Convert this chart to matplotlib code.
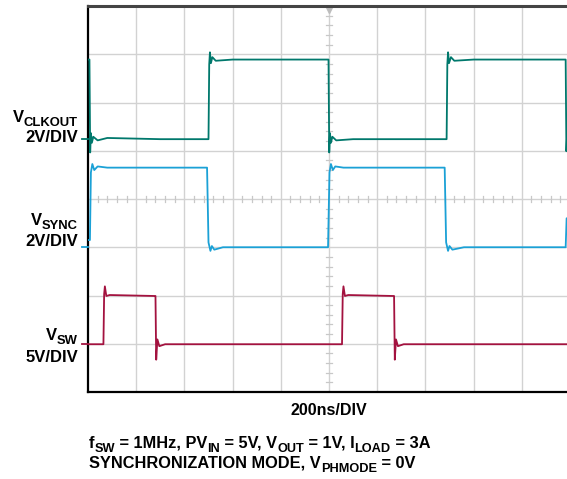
import numpy as np
import matplotlib.pyplot as plt

plt.rcParams['font.family'] = ['Liberation Sans', 'DejaVu Sans']
plt.rcParams['font.weight'] = 'bold'

# scope settings
ns_per_div = 200
n_xdiv, n_ydiv = 10, 8

# traces: time (ns) / volts
clk_t = [0, 6, 9, 12, 16, 22, 40, 80, 300, 500, 503, 506, 510, 516, 530, 600, 998, 1001, 1004, 1008, 1014, 1030, 1100, 1488, 1491, 1494, 1498, 1506, 1520, 1600, 1982, 1985, 1988, 1992, 2000]
clk_v = [3.3, 3.3, -0.55, 0.25, -0.15, 0.1, -0.05, 0.05, 0, 0, 3.1, 3.6, 3.15, 3.4, 3.25, 3.3, 3.3, -0.55, 0.25, -0.15, 0.1, -0.05, 0, 0, 3.1, 3.6, 3.15, 3.4, 3.25, 3.3, 3.3, -0.5, 0.2, -0.1, 0]
sync_t = [0, 8, 12, 18, 26, 40, 80, 494, 500, 508, 514, 524, 560, 996, 1002, 1008, 1016, 1026, 1060, 1480, 1486, 1494, 1500, 1512, 1560, 1982, 1986, 2000]
sync_v = [0.3, 0.3, 3.1, 3.45, 3.2, 3.35, 3.3, 3.3, 0.2, -0.15, 0.05, -0.1, 0, 0, 3.1, 3.45, 3.2, 3.35, 3.3, 3.3, 0.2, -0.15, 0.05, -0.1, 0, 0, 1.2, 1.2]
sw_t = [0, 64, 67, 70, 76, 90, 276, 280, 283, 288, 296, 320, 1054, 1057, 1060, 1066, 1080, 1266, 1270, 1273, 1278, 1286, 1310, 2000]
sw_v = [0, 0, 5.2, 6.0, 5.0, 5.1, 5.0, 5.0, -1.6, 0.5, -0.2, 0, 0, 5.2, 6.0, 5.0, 5.1, 5.0, 5.0, -1.6, 0.5, -0.2, 0, 0]

clk_zero, clk_vdiv = 5.24, 2.0
sync_zero, sync_vdiv = 3.0, 2.0
sw_zero, sw_vdiv = 0.99, 5.0

teal = '#00786C'
blue = '#1BA1D6'
red = '#A3123F'

W, H = 567, 479
fig = plt.figure(figsize=(W / 100, H / 100), dpi=100)
ax = fig.add_axes([88 / W, 1 - 392 / H, 482 / W, 386 / H])
ax.set_xlim(0, n_xdiv)
ax.set_ylim(0, n_ydiv)

# graticule
for i in range(1, n_xdiv):
    ax.axvline(i, color='#d2d2d2', lw=1.0, zorder=1)
for j in range(1, n_ydiv):
    ax.axhline(j, color='#d2d2d2', lw=1.0, zorder=1)
for k in np.arange(0.2, n_xdiv, 0.2):
    if abs(k - round(k)) > 1e-6:
        ax.plot([k, k], [4 - 0.06, 4 + 0.06], color='#c8c8c8', lw=0.9, zorder=1)
for k in np.arange(0.2, n_ydiv, 0.2):
    if abs(k - round(k)) > 1e-6:
        ax.plot([5 - 0.06, 5 + 0.06], [k, k], color='#c8c8c8', lw=0.9, zorder=1)
ax.plot([5], [n_ydiv - 0.08], marker='v', color='#bdbdbd', ms=5, clip_on=False, zorder=2)

def draw(t, v, zero, vdiv, color):
    x = np.array(t) / ns_per_div
    y = zero + np.array(v) / vdiv
    ax.plot(x, y, color=color, lw=1.3, zorder=3)
    ax.plot([-0.13, 0], [zero, zero], color=color, lw=1.3, clip_on=False, zorder=3)

draw(clk_t, clk_v, clk_zero, clk_vdiv, teal)
draw(sync_t, sync_v, sync_zero, sync_vdiv, blue)
draw(sw_t, sw_v, sw_zero, sw_vdiv, red)

ax.set_xticks([])
ax.set_yticks([])
ax.spines['left'].set_linewidth(1.6)
ax.spines['bottom'].set_linewidth(1.6)
ax.spines['top'].set_color('#444444')
ax.spines['top'].set_linewidth(2.2)
ax.spines['right'].set_visible(False)

renderer = fig.canvas.get_renderer()

# text made of pieces; pieces starting with '_' are subscripts
def rich(x, y, parts, size, ha='left', sub=0.78):
    px = size * 100 / 72
    objs = []
    total = 0
    for p in parts:
        if p.startswith('_'):
            s, fs, dy = p[1:], size * sub, 0.22 * px
        else:
            s, fs, dy = p, size, 0
        t = fig.text(0, 0, s, fontsize=fs, fontweight='bold', va='baseline')
        w = t.get_window_extent(renderer).width
        objs.append((t, w, dy))
        total += w
    if ha == 'right':
        x0 = x - total
    elif ha == 'center':
        x0 = x - total / 2
    else:
        x0 = x
    for t, w, dy in objs:
        t.set_position((x0 / W, 1 - (y + dy) / H))
        x0 += w

lab = 12
rich(78, 122, ['V', '_CLKOUT'], lab, ha='right')
rich(78, 142, ['2V/DIV'], lab, ha='right')
rich(78, 225, ['V', '_SYNC'], lab, ha='right')
rich(78, 246, ['2V/DIV'], lab, ha='right')
rich(78, 340, ['V', '_SW'], lab, ha='right')
rich(78, 362, ['5V/DIV'], lab, ha='right')

rich(329, 415, ['200ns/DIV'], 11.5, ha='center')
rich(89, 448, ['f', '_SW', ' = 1MHz, PV', '_IN', ' = 5V, V', '_OUT', ' = 1V, I', '_LOAD', ' = 3A'], 11.8)
rich(89, 468, ['SYNCHRONIZATION MODE, V', '_PHMODE', ' = 0V'], 11.8)

fig.savefig('out.png', dpi=100)
